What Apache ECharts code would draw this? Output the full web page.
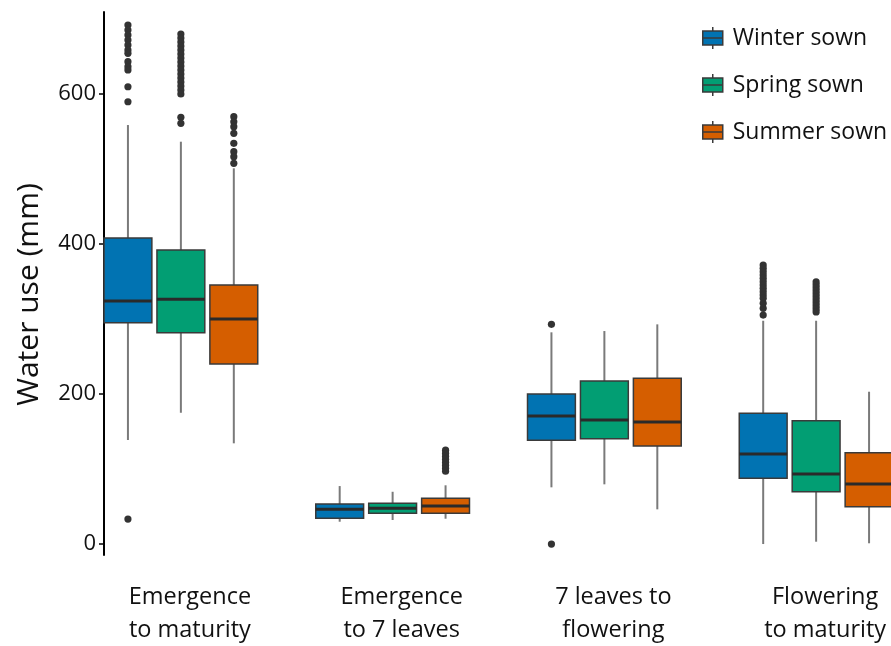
<!DOCTYPE html>
<html>
<head>
<meta charset="utf-8">
<script src="https://cdn.jsdelivr.net/npm/echarts@6/dist/echarts.min.js"></script>
<style>
html,body{margin:0;padding:0;background:#fff;}
#chart{width:891px;height:646px;}
</style>
</head>
<body>
<div id="chart"></div>
<script>
// ---- Data ----
const categories = ['Emergence\nto maturity', 'Emergence\nto 7 leaves', '7 leaves to\nflowering', 'Flowering\nto maturity'];
const seriesNames = ['Winter sown', 'Spring sown', 'Summer sown'];
const seriesColors = ['#0173B2', '#029E73', '#D55E00'];
const yTicks = [0, 200, 400, 600];

// [lower whisker, Q1, median, Q3, upper whisker] per category
const winterBox = [
  [138.5, 294.7, 323.6, 407.5, 557.9],
  [29.7, 34.2, 46.2, 53.3, 77.2],
  [75.5, 138.1, 170.4, 199.7, 281.9],
  [0, 87.5, 119.8, 174.0, 297.3]
];
const springBox = [
  [174.8, 281.4, 325.8, 391.5, 535.7],
  [32.0, 40.9, 47.5, 54.2, 69.6],
  [79.5, 140.2, 165.1, 217.0, 283.6],
  [3.1, 69.6, 93.2, 164.2, 297.3]
];
const summerBox = [
  [134.1, 239.7, 299.6, 344.9, 500.3],
  [33.7, 40.9, 50.6, 60.9, 78.2],
  [46.2, 130.5, 162.5, 220.6, 292.5],
  [1.0, 49.7, 79.9, 121.6, 202.8]
];

// outliers per category
const winterOutliers = [
  [691.1, 684.4, 677.8, 671.1, 664.4, 657.8, 653.4, 642.2, 635.6, 631.2, 608.9, 588.9, 33.3],
  [],
  [292.5, 0],
  [371.5, 367.1, 362.6, 358.2, 353.8, 349.3, 344.9, 340.5, 336.0, 331.6, 327.2, 320.5, 313.8, 304.9]
];
const springOutliers = [
  [679.1, 673.8, 668.4, 663.1, 657.8, 652.5, 647.1, 641.8, 636.5, 631.2, 625.8, 620.5, 615.2, 609.9, 604.5, 599.2, 568.2, 560.2],
  [],
  [],
  [349, 345, 341, 337, 333, 329, 325, 321, 317, 313, 309]
];
const summerOutliers = [
  [569.0, 562.3, 555.7, 546.9, 533.6, 522.4, 515.7, 506.9],
  [125, 121, 117, 113, 109, 105, 101, 97],
  [],
  []
];

const boxSets = [winterBox, springBox, summerBox];
const outlierSets = [winterOutliers, springOutliers, summerOutliers];

// ---- Layout helpers ----
const groupOffsets = [-0.25, 0, 0.25];   // fraction of category band
const halfBoxFrac = 0.113;               // half box width as fraction of band

function makeBoxRender(k) {
  return function (params, api) {
    const cat = api.value(0);
    const band = api.size([1, 0])[0];
    const xc = api.coord([cat, 0])[0] + groupOffsets[k] * band;
    const hw = halfBoxFrac * band;
    const yLo = api.coord([cat, api.value(1)])[1];
    const yQ1 = api.coord([cat, api.value(2)])[1];
    const yMed = api.coord([cat, api.value(3)])[1];
    const yQ3 = api.coord([cat, api.value(4)])[1];
    const yHi = api.coord([cat, api.value(5)])[1];
    return {
      type: 'group',
      children: [
        { type: 'line', shape: { x1: xc, y1: yHi, x2: xc, y2: yQ3 }, style: { stroke: '#7a7a7a', lineWidth: 2 } },
        { type: 'line', shape: { x1: xc, y1: yQ1, x2: xc, y2: yLo }, style: { stroke: '#7a7a7a', lineWidth: 2 } },
        { type: 'rect', shape: { x: xc - hw, y: yQ3, width: 2 * hw, height: yQ1 - yQ3 },
          style: { fill: seriesColors[k], stroke: '#3a3a3a', lineWidth: 1.5 } },
        { type: 'line', shape: { x1: xc - hw, y1: yMed, x2: xc + hw, y2: yMed }, style: { stroke: '#2a2a2a', lineWidth: 3 } }
      ]
    };
  };
}

function makeOutlierRender(k) {
  return function (params, api) {
    const cat = api.value(0);
    const band = api.size([1, 0])[0];
    const p = api.coord([cat, api.value(1)]);
    return {
      type: 'circle',
      shape: { cx: p[0] + groupOffsets[k] * band, cy: p[1], r: 3.6 },
      style: { fill: '#333333' }
    };
  };
}

const series = [];
for (let k = 0; k < 3; k++) {
  series.push({
    name: seriesNames[k],
    type: 'custom',
    renderItem: makeBoxRender(k),
    itemStyle: { color: seriesColors[k] },
    encode: { x: 0, y: [1, 2, 3, 4, 5] },
    data: boxSets[k].map((b, i) => [i].concat(b)),
    clip: false,
    z: 2
  });
}
for (let k = 0; k < 3; k++) {
  const pts = [];
  outlierSets[k].forEach((arr, i) => arr.forEach(v => pts.push([i, v])));
  series.push({
    name: seriesNames[k],
    type: 'custom',
    renderItem: makeOutlierRender(k),
    itemStyle: { color: seriesColors[k] },
    encode: { x: 0, y: 1 },
    data: pts,
    clip: false,
    z: 3
  });
}

const legendIcon = 'path://M0,4L20,4L20,18L0,18Z M0,11L20,11 M10,0L10,4 M10,18L10,22';

const chart = echarts.init(document.getElementById('chart'), null, { renderer: 'canvas' });
chart.setOption({
  animation: false,
  backgroundColor: '#ffffff',
  textStyle: { fontFamily: 'Open Sans' },
  grid: { left: 75, top: 12, width: 847, height: 543, containLabel: false, outerBoundsMode: 'none' },
  legend: {
    orient: 'vertical',
    left: 697,
    top: 20,
    itemWidth: 20,
    itemHeight: 22,
    itemGap: 21,
    textStyle: { fontSize: 23, color: '#111', fontFamily: 'Open Sans', lineHeight: 26, padding: [0, 0, 0, 5] },
    data: seriesNames.map((n, k) => ({
      name: n,
      icon: legendIcon,
      itemStyle: { color: seriesColors[k], borderColor: '#3a3a3a', borderWidth: 1.5 }
    }))
  },
  xAxis: {
    type: 'category',
    data: categories,
    boundaryGap: true,
    axisLine: { show: false },
    axisTick: { show: false },
    splitLine: { show: false },
    axisLabel: {
      interval: 0,
      margin: 26,
      fontSize: 23.5,
      lineHeight: 33,
      color: '#111',
      fontFamily: 'Open Sans',
      padding: [0, 0, 0, 18]
    }
  },
  yAxis: {
    type: 'value',
    min: -14.6,
    max: 708.4,
    offset: -29,
    name: 'Water use (mm)',
    nameLocation: 'middle',
    nameGap: 60,
    nameTextStyle: { fontSize: 30, color: '#111', fontFamily: 'Open Sans', padding: [0, 22, 0, 0] },
    axisLine: { show: true, lineStyle: { color: '#000', width: 2 } },
    axisTick: { show: true, length: 5, lineStyle: { color: '#000', width: 1.5 }, customValues: yTicks },
    axisLabel: { fontSize: 22, color: '#111', margin: 8, fontFamily: 'Open Sans', customValues: yTicks },
    splitLine: { show: false }
  },
  series: series
});
</script>
</body>
</html>
